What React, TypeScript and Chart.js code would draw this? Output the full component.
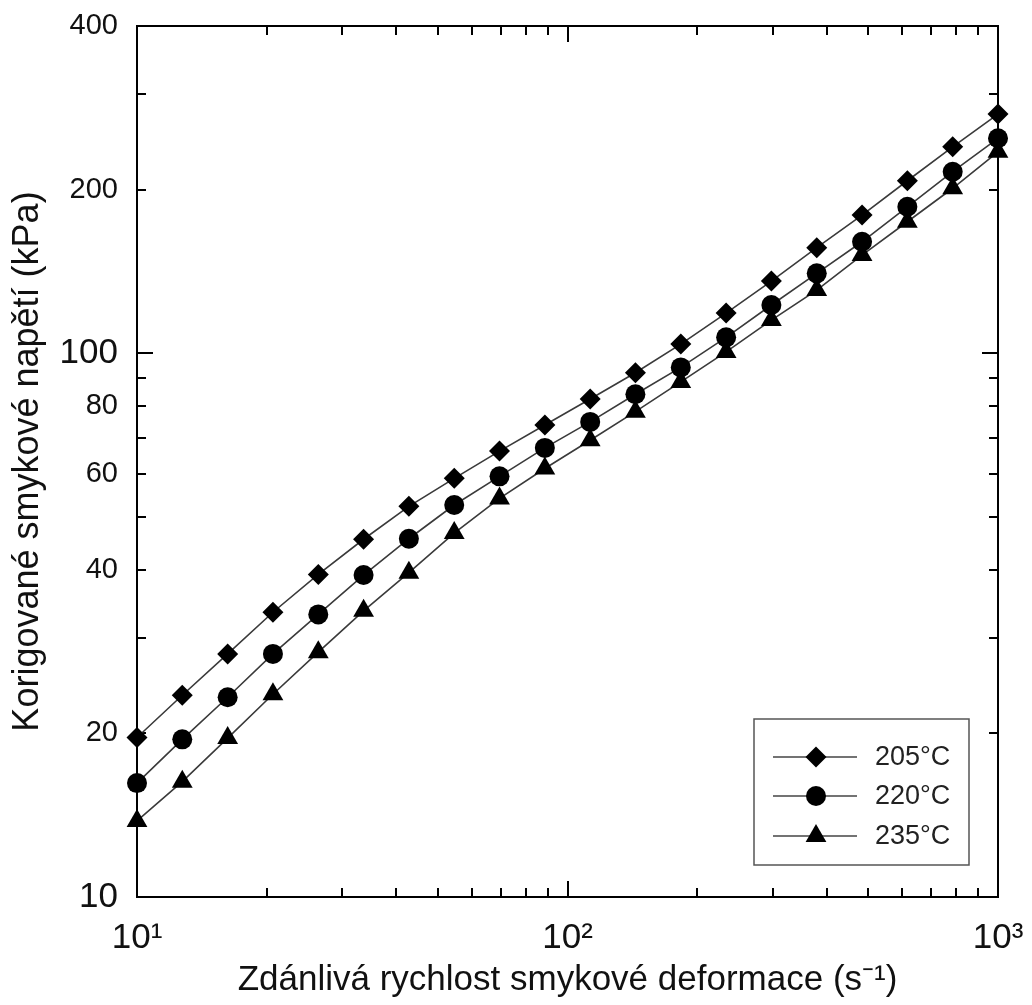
import React, { useEffect, useRef } from 'react';
import { Chart, registerables } from 'chart.js';

Chart.register(...registerables);

// Apparent shear rate (s^-1)
const shearRates = [10, 12.74, 16.24, 20.69, 26.37, 33.6, 42.81, 54.56, 69.52, 88.59, 112.9, 143.8, 183.3, 233.6, 297.6, 379.3, 483.3, 615.8, 784.8, 1000];
// Corrected shear stress (kPa)
const stress205 = [19.65, 23.5, 28.0, 33.4, 39.2, 45.5, 52.3, 58.9, 66.1, 73.8, 82.4, 92.1, 104.0, 118.6, 135.8, 156.4, 179.6, 207.7, 239.8, 275.5];
const stress220 = [16.2, 19.5, 23.3, 28.0, 33.1, 39.1, 45.6, 52.6, 59.4, 67.0, 74.8, 84.1, 94.2, 107.0, 122.7, 140.3, 160.4, 186.0, 215.8, 248.6];
const stress235 = [13.8, 16.3, 19.6, 23.6, 28.2, 33.6, 39.5, 46.7, 54.1, 61.4, 69.2, 78.1, 88.6, 100.6, 115.1, 130.7, 151.6, 174.6, 201.2, 234.8];

const seriesLabels = ['205°C', '220°C', '235°C'];
const seriesMarkers = ['rectRot', 'circle', 'triangle'];
const seriesMarkerSizes = [10.5, 10, 12];

const xTickValues = [10, 100, 1000];
const xTickLabels = ['10¹', '10²', '10³'];
const yTickValues = [10, 20, 40, 60, 80, 100, 200, 400];
const yTickLabels = ['10', '20', '40', '60', '80', '100', '200', '400'];
const yBigLabels = [10, 100];

const xTickMarks = [20, 30, 40, 50, 60, 70, 80, 90, 100, 200, 300, 400, 500, 600, 700, 800, 900];
const yTickMarks = [20, 30, 40, 50, 60, 70, 80, 90, 100, 200, 300];
const decadeMarks = [100];

const xTitle = 'Zdánlivá rychlost smykové deformace (s⁻¹)';
const yTitle = 'Korigované smykové napětí (kPa)';

const FONT = "'Liberation Sans', Arial, sans-serif";

function drawMarker(ctx: CanvasRenderingContext2D, style: string, x: number, y: number, r: number) {
  ctx.beginPath();
  if (style === 'rectRot') {
    ctx.moveTo(x, y - r);
    ctx.lineTo(x + r, y);
    ctx.lineTo(x, y + r);
    ctx.lineTo(x - r, y);
  } else if (style === 'circle') {
    ctx.arc(x, y, r, 0, Math.PI * 2);
  } else {
    ctx.moveTo(x, y - r);
    ctx.lineTo(x + Math.sin((2 * Math.PI) / 3) * r, y - Math.cos((2 * Math.PI) / 3) * r);
    ctx.lineTo(x + Math.sin((4 * Math.PI) / 3) * r, y - Math.cos((4 * Math.PI) / 3) * r);
  }
  ctx.closePath();
  ctx.fill();
}

const framePlugin = {
  id: 'frameTicks',
  beforeDatasetsDraw(chart: any) {
    const { ctx, chartArea: a, scales } = chart;
    const xs = scales.x;
    const ys = scales.y;
    ctx.save();
    ctx.strokeStyle = '#000';
    ctx.lineWidth = 2;
    ctx.strokeRect(a.left, a.top, a.right - a.left, a.bottom - a.top);
    ctx.beginPath();
    for (const v of xTickMarks) {
      const px = Math.round(xs.getPixelForValue(v));
      const len = decadeMarks.includes(v) ? 16 : 9;
      ctx.moveTo(px, a.bottom);
      ctx.lineTo(px, a.bottom - len);
      ctx.moveTo(px, a.top);
      ctx.lineTo(px, a.top + len);
    }
    for (const v of yTickMarks) {
      const py = Math.round(ys.getPixelForValue(v));
      const len = decadeMarks.includes(v) ? 16 : 9;
      ctx.moveTo(a.left, py);
      ctx.lineTo(a.left + len, py);
      ctx.moveTo(a.right, py);
      ctx.lineTo(a.right - len, py);
    }
    ctx.stroke();
    ctx.restore();
  },
  afterDraw(chart: any) {
    const { ctx } = chart;
    const bx = 754, by = 719, bw = 215, bh = 146;
    ctx.save();
    ctx.fillStyle = '#fff';
    ctx.fillRect(bx, by, bw, bh);
    ctx.strokeStyle = '#555';
    ctx.lineWidth = 1.5;
    ctx.strokeRect(bx, by, bw, bh);
    const rows = [757, 796, 836];
    chart.data.datasets.forEach((ds: any, i: number) => {
      const y = rows[i];
      ctx.strokeStyle = '#444';
      ctx.lineWidth = 1.5;
      ctx.beginPath();
      ctx.moveTo(773, y);
      ctx.lineTo(857, y);
      ctx.stroke();
      ctx.fillStyle = '#000';
      drawMarker(ctx, ds.pointStyle, 816, y, ds.pointRadius);
      ctx.fillStyle = '#222';
      ctx.font = `27px ${FONT}`;
      ctx.textAlign = 'left';
      ctx.textBaseline = 'middle';
      ctx.fillText(ds.label, 875, y + 1);
    });
    ctx.restore();
  },
};

export default function App() {
  const canvasRef = useRef<HTMLCanvasElement | null>(null);

  useEffect(() => {
    const canvas = canvasRef.current;
    if (!canvas) return;
    const seriesData = [stress205, stress220, stress235];
    const chart = new Chart(canvas, {
      type: 'line',
      data: {
        datasets: seriesData.map((vals, i) => ({
          label: seriesLabels[i],
          data: shearRates.map((x, j) => ({ x, y: vals[j] })),
          borderColor: '#3a3a3a',
          borderWidth: 1.6,
          pointStyle: seriesMarkers[i] as any,
          pointRadius: seriesMarkerSizes[i],
          pointBackgroundColor: '#000',
          pointBorderColor: '#000',
          pointBorderWidth: 0,
          tension: 0,
          clip: false as any,
        })),
      },
      options: {
        responsive: false,
        animation: false,
        devicePixelRatio: 1,
        layout: { padding: { top: 26, right: 34, left: 0, bottom: 0 } },
        plugins: {
          legend: { display: false },
          tooltip: { enabled: false },
        },
        scales: {
          x: {
            type: 'logarithmic',
            min: 10,
            max: 1000,
            grid: { display: false, drawTicks: false },
            border: { display: false },
            afterBuildTicks: (scale: any) => {
              scale.ticks = xTickValues.map((v) => ({ value: v }));
            },
            afterFit: (scale: any) => {
              scale.height = 108;
              scale.paddingLeft = 0;
              scale.paddingRight = 0;
              scale.paddingTop = 0;
              scale.paddingBottom = 0;
            },
            ticks: {
              autoSkip: false,
              maxRotation: 0,
              padding: 20,
              color: '#111',
              font: { size: 35, family: FONT },
              callback: (value: any) => {
                const idx = xTickValues.indexOf(Number(value));
                return idx >= 0 ? xTickLabels[idx] : '';
              },
            },
            title: {
              display: true,
              text: xTitle,
              color: '#111',
              font: { size: 35, family: FONT },
              padding: { top: 0, bottom: 4 },
            },
          },
          y: {
            type: 'logarithmic',
            min: 10,
            max: 400,
            grid: { display: false, drawTicks: false },
            border: { display: false },
            afterBuildTicks: (scale: any) => {
              scale.ticks = yTickValues.map((v) => ({ value: v }));
            },
            afterFit: (scale: any) => {
              scale.width = 137;
              scale.paddingLeft = 0;
              scale.paddingRight = 0;
              scale.paddingTop = 0;
              scale.paddingBottom = 0;
            },
            ticks: {
              autoSkip: false,
              padding: 19,
              color: '#111',
              font: (ctx: any) => ({
                size: ctx.tick && yBigLabels.includes(ctx.tick.value) ? 35 : 29,
                family: FONT,
              }),
              callback: (value: any) => {
                const idx = yTickValues.indexOf(Number(value));
                return idx >= 0 ? yTickLabels[idx] : '';
              },
            },
            title: {
              display: true,
              text: yTitle,
              color: '#111',
              font: { size: 36, family: FONT },
              padding: { top: 6, bottom: 0 },
            },
          },
        },
      },
      plugins: [framePlugin],
    } as any);
    return () => chart.destroy();
  }, []);

  return (
    <div style={{ position: 'absolute', left: 0, top: 0, width: 1032, height: 1005, background: '#fff' }}>
      <canvas ref={canvasRef} width={1032} height={1005} style={{ display: 'block' }} />
    </div>
  );
}
